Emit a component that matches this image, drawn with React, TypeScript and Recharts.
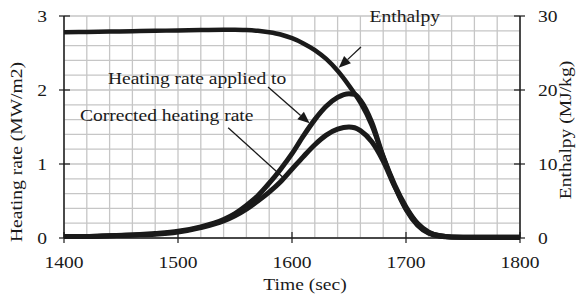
import { LineChart, Line, XAxis, YAxis, CartesianGrid, ReferenceLine, ReferenceDot, Label } from 'recharts';

const time = [1400, 1420, 1440, 1460, 1480, 1500, 1520, 1540, 1550, 1560, 1570, 1580, 1590, 1600, 1610, 1620, 1630, 1640, 1650, 1655, 1660, 1670, 1680, 1690, 1700, 1710, 1720, 1730, 1740, 1760, 1780, 1800];
const appliedRate = [0.02, 0.02, 0.03, 0.04, 0.06, 0.09, 0.15, 0.25, 0.33, 0.44, 0.57, 0.74, 0.93, 1.14, 1.38, 1.6, 1.78, 1.9, 1.95, 1.94, 1.86, 1.56, 1.1, 0.72, 0.42, 0.2, 0.08, 0.03, 0.015, 0.01, 0.01, 0.01];
const correctedRate = [0.02, 0.02, 0.03, 0.04, 0.05, 0.08, 0.14, 0.23, 0.3, 0.39, 0.5, 0.62, 0.76, 0.93, 1.1, 1.26, 1.39, 1.47, 1.5, 1.49, 1.45, 1.3, 1.04, 0.7, 0.4, 0.19, 0.07, 0.03, 0.015, 0.01, 0.01, 0.01];
const enthalpy = [27.8, 27.85, 27.9, 27.95, 28.0, 28.05, 28.1, 28.15, 28.15, 28.1, 28.0, 27.8, 27.5, 27.0, 26.3, 25.4, 24.2, 22.6, 20.6, 19.5, 18.3, 15.2, 11.0, 7.0, 3.8, 1.7, 0.6, 0.2, 0.1, 0.05, 0.05, 0.05];

const xTicks = [1400, 1500, 1600, 1700, 1800];
const leftTicks = [0, 1, 2, 3];
const rightTicks = [0, 10, 20, 30];

// annotation anchors, in data units (time, heating rate)
const notes = [
  { text: 'Enthalpy', x: 1668, y: 2.92 },
  { text: 'Heating rate applied to', x: 1438.5, y: 2.08 },
  { text: 'Corrected heating rate', x: 1414, y: 1.58 },
];
const arrows = [
  { from: [1660.5, 2.58], to: [1641, 2.3], head: true },
  { from: [1579, 2.04], to: [1615.5, 1.55], head: true },
  { from: [1544, 1.49], to: [1592, 0.82], head: false },
];

const data = time.map((t, i) => ({
  t,
  applied: appliedRate[i],
  corrected: correctedRate[i],
  enthalpy: enthalpy[i],
}));

const FONT = '"Liberation Serif", "Times New Roman", serif';
const INK = '#1a1a1a';
const SX = 1.15;

function SText({ x, y, children, anchor = 'middle', rotate = 0, size = 17 }: any) {
  return (
    <text
      transform={`translate(${x},${y}) rotate(${rotate}) scale(${SX},1)`}
      textAnchor={anchor}
      fontFamily={FONT}
      fontSize={size}
      fill={INK}
    >
      {children}
    </text>
  );
}

const LeftTick = ({ x, y, payload }: any) => {
  const ax = x + 17;
  return (
    <g>
      <line x1={ax - 5} x2={ax + 6} y1={y} y2={y} stroke={INK} strokeWidth={1.2} />
      <SText x={x} y={y + 6} anchor="end">{payload.value}</SText>
    </g>
  );
};

const RightTick = ({ x, y, payload }: any) => {
  const ax = x - 18;
  return (
    <g>
      <line x1={ax - 6} x2={ax + 5} y1={y} y2={y} stroke={INK} strokeWidth={1.2} />
      <SText x={x} y={y + 6} anchor="start">{payload.value}</SText>
    </g>
  );
};

const BottomTick = ({ x, y, payload }: any) => {
  const ay = y - 15;
  return (
    <g>
      <line x1={x} x2={x} y1={ay - 6} y2={ay + 5} stroke={INK} strokeWidth={1.2} />
      <SText x={x} y={ay + 30}>{payload.value}</SText>
    </g>
  );
};

const ArrowShape = (head: boolean) => (props: any) => {
  const { x1, y1, x2, y2 } = props;
  if ([x1, y1, x2, y2].some((v) => v == null || isNaN(v))) return <g />;
  const a = Math.atan2(y2 - y1, x2 - x1);
  const len = 12;
  const w = 5;
  const bx = x2 - len * Math.cos(a);
  const by = y2 - len * Math.sin(a);
  const px = -Math.sin(a) * w;
  const py = Math.cos(a) * w;
  return (
    <g>
      <line x1={x1} y1={y1} x2={head ? bx : x2} y2={head ? by : y2} stroke={INK} strokeWidth={1.3} />
      {head && (
        <polygon points={`${x2},${y2} ${bx + px},${by + py} ${bx - px},${by - py}`} fill={INK} />
      )}
    </g>
  );
};

export default function App() {
  return (
    <div style={{ position: 'absolute', left: 0, top: 0, width: 576, height: 298, background: '#fff' }}>
      <LineChart width={576} height={298} data={data} margin={{ top: 16, right: 0, bottom: 0, left: 0 }}>
        <CartesianGrid
          yAxisId="left"
          stroke="#c6c6c6"
          strokeWidth={1.3}
          horizontalCoordinatesGenerator={({ offset }: any) =>
            Array.from({ length: 16 }, (_, i) => offset.top + (i * offset.height) / 15)
          }
          verticalCoordinatesGenerator={({ offset }: any) =>
            Array.from({ length: 21 }, (_, i) => offset.left + (i * offset.width) / 20)
          }
        />
        <XAxis
          dataKey="t"
          type="number"
          domain={[1400, 1800]}
          ticks={xTicks}
          height={60}
          tickSize={5}
          tickMargin={10}
          tickLine={false}
          axisLine={{ stroke: INK, strokeWidth: 1.5 }}
          tick={BottomTick}
        >
          <Label
            content={(p: any) => {
              const vb = p.viewBox || { x: 64, y: 238, width: 456, height: 60 };
              return <SText x={vb.x + vb.width / 2 + 13} y={vb.y + 52}>Time (sec)</SText>;
            }}
          />
        </XAxis>
        <YAxis
          yAxisId="left"
          domain={[0, 3]}
          ticks={leftTicks}
          width={64}
          tickSize={5}
          tickMargin={12}
          tickLine={false}
          axisLine={{ stroke: INK, strokeWidth: 1.5 }}
          tick={LeftTick}
        >
          <Label
            content={(p: any) => {
              const vb = p.viewBox || { x: 0, y: 16, width: 64, height: 222 };
              return (
                <SText x={vb.x + 22} y={vb.y + vb.height / 2 + 25} rotate={-90}>
                  Heating rate (MW/m2)
                </SText>
              );
            }}
          />
        </YAxis>
        <YAxis
          yAxisId="right"
          orientation="right"
          domain={[0, 30]}
          ticks={rightTicks}
          width={56}
          tickSize={5}
          tickMargin={13}
          tickLine={false}
          axisLine={{ stroke: INK, strokeWidth: 1.5 }}
          tick={RightTick}
        >
          <Label
            content={(p: any) => {
              const vb = p.viewBox || { x: 520, y: 16, width: 56, height: 222 };
              return (
                <SText x={vb.x + 51} y={vb.y + vb.height / 2 + 3} rotate={-90}>
                  Enthalpy (MJ/kg)
                </SText>
              );
            }}
          />
        </YAxis>
        {arrows.map((a, i) => (
          <ReferenceLine
            key={`arrow-${i}`}
            yAxisId="left"
            segment={[
              { x: a.from[0], y: a.from[1] },
              { x: a.to[0], y: a.to[1] },
            ]}
            ifOverflow="visible"
            shape={ArrowShape(a.head)}
          />
        ))}
        <Line
          yAxisId="right"
          type="monotone"
          dataKey="enthalpy"
          stroke={INK}
          strokeWidth={4.5}
          dot={false}
          isAnimationActive={false}
        />
        <Line
          yAxisId="left"
          type="monotone"
          dataKey="applied"
          stroke={INK}
          strokeWidth={5}
          dot={false}
          isAnimationActive={false}
        />
        <Line
          yAxisId="left"
          type="monotone"
          dataKey="corrected"
          stroke={INK}
          strokeWidth={5}
          dot={false}
          isAnimationActive={false}
        />
        {notes.map((n, i) => (
          <ReferenceDot
            key={`note-${i}`}
            yAxisId="left"
            x={n.x}
            y={n.y}
            r={0}
            ifOverflow="visible"
            shape={(p: any) => <SText x={p.cx} y={p.cy} anchor="start">{n.text}</SText>}
          />
        ))}
      </LineChart>
    </div>
  );
}
